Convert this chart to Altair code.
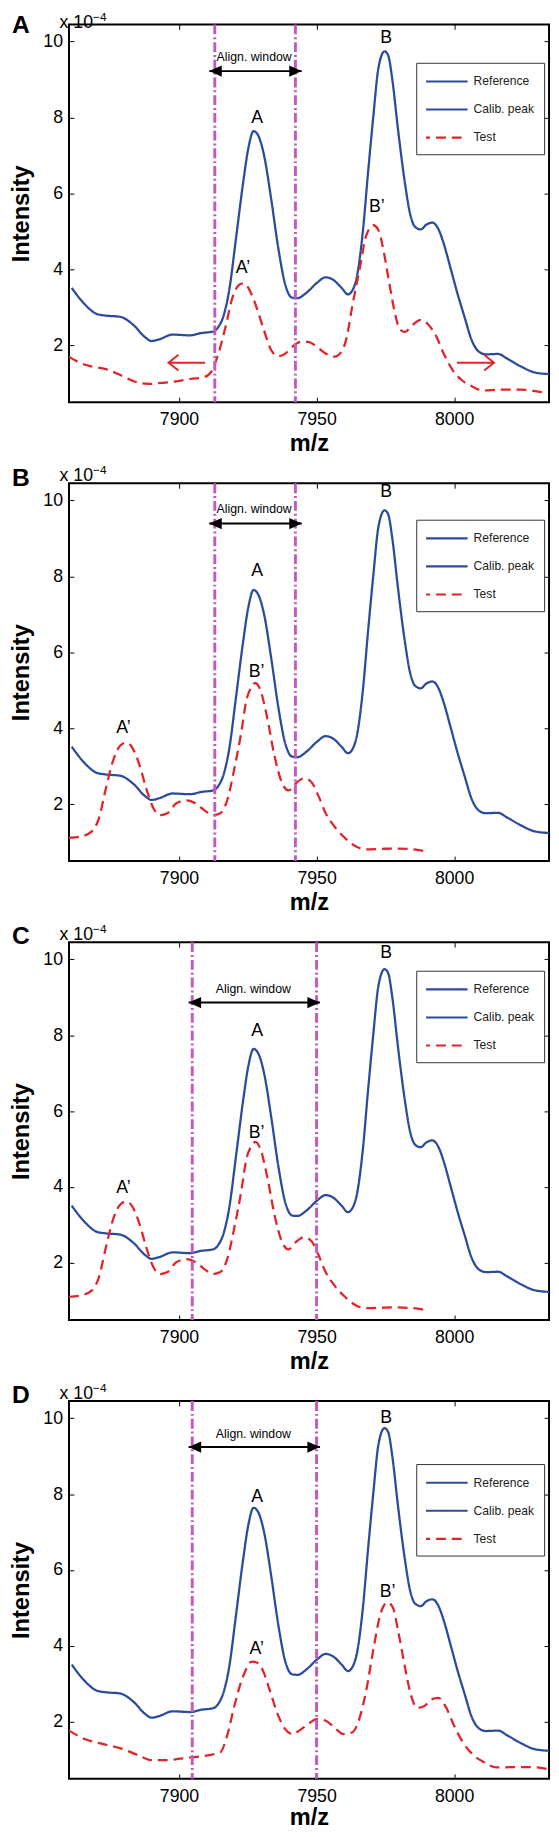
import altair as alt
import pandas as pd

# ---------------- data ----------------
REF_X = [7861, 7865.7, 7870.2, 7873.4, 7878.5, 7883.6, 7887.5, 7890, 7892.6, 7897.7,
         7904, 7908, 7912.4, 7914.3, 7916.2, 7918.2, 7920.7, 7923.3, 7925.2, 7927.1,
         7929.0, 7931, 7933.5, 7936.1, 7938.6, 7941.2, 7943.1, 7946.3, 7950.1, 7953.3,
         7955.9, 7959.1, 7961.4, 7962.9, 7964.8, 7966.8, 7968.7, 7970.6, 7972.5, 7974.7,
         7976.0, 7977.6, 7979.5, 7982.1, 7984.0, 7985.9, 7987.9, 7989.8, 7992.1, 7994.2,
         7996.2, 7998.7, 8001.3, 8003.8, 8006.4, 8009, 8011.5, 8016, 8019.2, 8024.3,
         8029.4, 8034.5]
REF_Y = [3.51, 3.08, 2.82, 2.78, 2.75, 2.52, 2.22, 2.11, 2.15, 2.28,
         2.26, 2.32, 2.36, 2.48, 2.78, 3.43, 4.81, 6.28, 7.19, 7.64,
         7.49, 6.97, 5.85, 4.55, 3.60, 3.25, 3.24, 3.38, 3.64, 3.79,
         3.73, 3.51, 3.34, 3.43, 3.86, 4.98, 6.54, 8.01, 9.31, 9.74,
         9.64, 8.96, 7.75, 6.28, 5.46, 5.11, 5.05, 5.17, 5.23, 5.07,
         4.68, 4.03, 3.34, 2.74, 2.13, 1.83, 1.76, 1.77, 1.65, 1.44,
         1.28, 1.24]

TEST_A_X = [7860, 7864.5, 7868.3, 7873.4, 7878.5, 7883.6, 7888.7, 7893.9, 7899, 7904.1,
            7909.2, 7911.8, 7914.3, 7916.9, 7919.4, 7922, 7923.5, 7925.8, 7928.4, 7930.9,
            7933.5, 7936.1, 7938.6, 7941.2, 7944.4, 7946.9, 7950.1, 7953.3, 7956.5, 7959.1,
            7961, 7962.9, 7965.5, 7968.1, 7970.6, 7972.5, 7974.4, 7976.3, 7978.3, 7980.2,
            7982.1, 7984.7, 7987.9, 7990.4, 7993.6, 7996.2, 7999.4, 8002.6, 8006.4, 8010.2,
            8016.6, 8024.3, 8029.4, 8033]
TEST_A_Y = [1.70, 1.52, 1.44, 1.37, 1.22, 1.05, 0.98, 1.01, 1.05, 1.11,
            1.16, 1.31, 1.78, 2.48, 3.25, 3.60, 3.63, 3.43, 2.95, 2.39,
            1.87, 1.71, 1.78, 1.96, 2.09, 2.09, 1.96, 1.78, 1.70, 1.83,
            2.22, 3.0, 3.95, 4.90, 5.16, 5.03, 4.47, 3.69, 2.91, 2.43,
            2.35, 2.52, 2.67, 2.56, 2.22, 1.78, 1.35, 1.09, 0.92, 0.81,
            0.83, 0.83, 0.79, 0.75]

TEST_BC_X = [7860, 7864.5, 7868.3, 7870.9, 7873.4, 7876, 7878.5, 7880.8, 7883, 7885.5,
             7888.1, 7890.7, 7893.2, 7895.8, 7899, 7902.8, 7906, 7909.2, 7912.4, 7915,
             7917.5, 7920.1, 7922.6, 7924.5, 7926.4, 7927.7, 7929.6, 7932.2, 7934.7, 7937.3,
             7939.8, 7942.3, 7945.5, 7948.1, 7950.6, 7953.3, 7956.5, 7960.3, 7964.2, 7968.1,
             7973.2, 7978.3, 7983.4, 7989.5]
TEST_BC_Y = [1.11, 1.15, 1.28, 1.63, 2.41, 3.14, 3.53, 3.62, 3.49, 3.06,
             2.41, 1.89, 1.71, 1.76, 2.02, 2.10, 2.02, 1.84, 1.71, 1.76,
             2.10, 2.93, 3.88, 4.74, 5.09, 5.19, 5.00, 4.22, 3.27, 2.58,
             2.36, 2.54, 2.68, 2.58, 2.23, 1.76, 1.41, 1.11, 0.89, 0.81,
             0.82, 0.83, 0.82, 0.76]

TEST_D_X = [7860, 7865.7, 7872.1, 7878.5, 7884.9, 7890, 7895.2, 7900.3, 7905.4, 7910.5,
            7915, 7917.5, 7920.1, 7923.3, 7926.5, 7928.4, 7930.4, 7932.9, 7936.1, 7938.6,
            7941.2, 7943.7, 7946.9, 7950.1, 7953.3, 7956.5, 7959.7, 7962.9, 7965.5, 7968.1,
            7970.6, 7973.2, 7975.8, 7977.7, 7979.6, 7982.1, 7984.1, 7986.6, 7989.2, 7991.7,
            7994.3, 7996.8, 8000, 8003.2, 8007.1, 8010.9, 8015.4, 8021.8, 8028.2, 8034.5]
TEST_D_Y = [1.77, 1.55, 1.42, 1.31, 1.13, 0.99, 0.99, 1.03, 1.07, 1.12,
            1.20, 1.64, 2.42, 3.20, 3.59, 3.56, 3.37, 2.85, 2.16, 1.81,
            1.68, 1.77, 1.94, 2.07, 2.03, 1.85, 1.68, 1.72, 2.07, 2.85,
            3.89, 4.84, 5.15, 5.02, 4.41, 3.46, 2.76, 2.37, 2.42, 2.59,
            2.63, 2.42, 1.90, 1.46, 1.12, 0.94, 0.80, 0.81, 0.81, 0.75]

PANEL_LETTERS = ["A", "B", "C", "D"]
TEST_X = [TEST_A_X, TEST_BC_X, TEST_BC_X, TEST_D_X]
TEST_Y = [TEST_A_Y, TEST_BC_Y, TEST_BC_Y, TEST_D_Y]

WINDOW_LEFT = [7913.0, 7913.0, 7904.8, 7904.8]
WINDOW_RIGHT = [7942.3, 7942.3, 7950.0, 7950.0]
ARROW_LEFT = [7911.0, 7911.0, 7903.5, 7903.5]
ARROW_RIGHT = [7944.6, 7944.6, 7951.2, 7951.2]
ARROW_Y = [9.22, 9.39, 8.86, 9.24]
WINDOW_LABEL = "Align. window"
WINDOW_LABEL_X = [7927.3, 7927.3, 7927.0, 7927.0]
WINDOW_LABEL_Y = [9.59, 9.76, 9.22, 9.58]

PEAK_TEXT = ["A", "B", "A\u2019", "B\u2019"]
PEAK_X = [[7928.4, 7975.3, 7923.2, 7971.9],
          [7928.4, 7975.3, 7879.8, 7928.2],
          [7928.4, 7975.3, 7879.8, 7928.2],
          [7928.4, 7975.3, 7928.2, 7975.8]]
PEAK_Y = [[7.99, 10.09, 4.03, 5.63],
          [8.13, 10.22, 3.99, 5.47],
          [8.10, 10.17, 3.97, 5.43],
          [7.92, 10.00, 3.93, 5.41]]

RED_ARROW_TAIL = [7909.5, 8001.0]
RED_ARROW_TIP = [7896.2, 8014.5]
RED_ARROW_Y = [1.54, 1.54]

SERIES = ["Reference", "Calib. peak", "Test"]
X_TICKS = [7900, 7950, 8000]
Y_TICKS = [2, 4, 6, 8, 10]
X_DOMAIN = [7860, 8034.5]
Y_DOMAIN = [0.5, 10.45]
LEGEND_TOP = [39, 37, 29, 64]
ANNOT_SHIFT = [6, 0, 0, 0]
XTITLE_PAD = [3.5, 3.5, 3.5, 0.5]

# ---------------- styling ----------------
BLUE = "#2b4b9b"
RED = "#e3232a"
MAGENTA = "#c25bbf"
FONT = "Liberation Sans"
W, H = 488, 384


def panel(i):
    xs = alt.Scale(domain=X_DOMAIN, nice=False, zero=False)
    ys = alt.Scale(domain=Y_DOMAIN, nice=False, zero=False)
    color_scale = alt.Scale(domain=SERIES, range=[BLUE, BLUE, RED])
    dash_scale = alt.Scale(domain=SERIES, range=[[1, 0], [1, 0], [10, 6]])

    common = dict(offset=-5, tickSize=5, tickWidth=1, tickColor="black", domain=False,
                  grid=False, minExtent=0, maxExtent=200)
    x_bottom = alt.Axis(orient="bottom", values=X_TICKS, format="d",
                        labelFontSize=18, labelPadding=8.8, labelColor="black", labelFont=FONT,
                        labelFlush=False, title="m/z", titleFontSize=24, titleFontWeight="bold",
                        titlePadding=XTITLE_PAD[i], titleColor="black", titleFont=FONT, **common)
    x_top = alt.Axis(orient="top", values=X_TICKS, labels=False, title=None, **common)
    y_left = alt.Axis(orient="left", values=Y_TICKS, format="d",
                      labelFontSize=18, labelPadding=6.6, labelColor="black", labelFont=FONT,
                      labelFlush=False, title="Intensity", titleFontSize=24,
                      titleFontWeight="bold", titlePadding=9.7, titleColor="black",
                      titleFont=FONT, **common)
    y_right = alt.Axis(orient="right", values=Y_TICKS, labels=False, title=None, **common)

    legend = alt.Legend(title=" ", titleFontSize=3, titlePadding=0,
                        orient="none", legendX=353, legendY=LEGEND_TOP[i],
                        symbolType="M-2.22,0L5.78,0", symbolSize=144, symbolStrokeWidth=2.2,
                        labelFontSize=12.3, labelFont=FONT, labelColor="#222",
                        labelOffset=33.3, padding=10, rowPadding=15.5, clipHeight=12,
                        strokeColor="#333", fillColor="white", labelLimit=200)

    ref_df = pd.DataFrame({"mz": REF_X, "intensity": REF_Y, "series": "Reference"})
    test_df = pd.DataFrame({"mz": TEST_X[i], "intensity": TEST_Y[i], "series": "Test"})
    lines_df = pd.concat([ref_df, test_df], ignore_index=True)

    lines = alt.Chart(lines_df).mark_line(clip=True, interpolate="monotone", strokeWidth=2.3).encode(
        x=alt.X("mz:Q", scale=xs, axis=x_bottom),
        y=alt.Y("intensity:Q", scale=ys, axis=y_left),
        color=alt.Color("series:N", scale=color_scale, legend=legend),
        strokeDash=alt.StrokeDash("series:N", scale=dash_scale, legend=legend),
    )

    win_df = pd.DataFrame({"mz": [WINDOW_LEFT[i], WINDOW_RIGHT[i]]})
    rules = alt.Chart(win_df).mark_rule(color=MAGENTA, strokeWidth=3,
                                        strokeDash=[10, 3, 2, 3]).encode(
        x=alt.X("mz:Q", scale=xs, axis=x_top)
    )

    arrow_df = pd.DataFrame({"x1": [ARROW_LEFT[i]], "x2": [ARROW_RIGHT[i]], "y": [ARROW_Y[i]]})
    shaft = alt.Chart(arrow_df).mark_rule(color="black", strokeWidth=2).encode(
        x=alt.X("x1:Q", scale=xs, axis=None), x2="x2:Q",
        y=alt.Y("y:Q", scale=ys, axis=y_right),
    )
    head_l = alt.Chart(arrow_df).mark_point(shape="M0,0L2,-0.9L2,0.9Z", filled=True,
                                            color="black", size=161, opacity=1).encode(
        x=alt.X("x1:Q", scale=xs, axis=None), y=alt.Y("y:Q", scale=ys, axis=None))
    head_r = alt.Chart(arrow_df).mark_point(shape="M0,0L-2,-0.9L-2,0.9Z", filled=True,
                                            color="black", size=161, opacity=1).encode(
        x=alt.X("x2:Q", scale=xs, axis=None), y=alt.Y("y:Q", scale=ys, axis=None))

    wlab_df = pd.DataFrame({"t": [WINDOW_LABEL], "x": [WINDOW_LABEL_X[i]], "y": [WINDOW_LABEL_Y[i]]})
    wlab = alt.Chart(wlab_df).mark_text(fontSize=12.5, font=FONT, color="black",
                                        baseline="middle", align="center").encode(
        x=alt.X("x:Q", scale=xs, axis=None), y=alt.Y("y:Q", scale=ys, axis=None), text="t:N")

    peak_df = pd.DataFrame({"t": PEAK_TEXT, "x": PEAK_X[i], "y": PEAK_Y[i]})
    peaks = alt.Chart(peak_df).mark_text(fontSize=18, font=FONT, color="black",
                                         baseline="middle", align="center").encode(
        x=alt.X("x:Q", scale=xs, axis=None), y=alt.Y("y:Q", scale=ys, axis=None), text="t:N")

    s = ANNOT_SHIFT[i]
    letter = alt.Chart(pd.DataFrame({"t": [PANEL_LETTERS[i]]})).mark_text(
        fontSize=25, fontWeight="bold", font=FONT, color="black", align="left",
        baseline="alphabetic").encode(x=alt.value(-58), y=alt.value(2.3 + s), text="t:N")
    scale_txt = alt.Chart(pd.DataFrame({"t": ["x 10"]})).mark_text(
        fontSize=18, font=FONT, color="black", align="left", baseline="middle").encode(
        x=alt.value(-9.6), y=alt.value(-7.2 + s), text="t:N")
    scale_exp = alt.Chart(pd.DataFrame({"t": ["\u22124"]})).mark_text(
        fontSize=12, font=FONT, color="black", align="left", baseline="middle").encode(
        x=alt.value(24.5), y=alt.value(-13 + s), text="t:N")

    layers = [lines, rules, shaft, head_l, head_r, wlab, peaks, letter, scale_txt, scale_exp]

    if i == 0:
        red_df = pd.DataFrame({"tail": RED_ARROW_TAIL, "tip": RED_ARROW_TIP, "y": RED_ARROW_Y})
        red_shaft = alt.Chart(red_df).mark_rule(color=RED, strokeWidth=2).encode(
            x=alt.X("tail:Q", scale=xs, axis=None), x2="tip:Q",
            y=alt.Y("y:Q", scale=ys, axis=None))
        red_l = alt.Chart(red_df.iloc[[0]]).mark_point(
            shape="M1.25,-1L0,0L1.25,1", filled=False, color=RED, strokeWidth=2,
            size=256, opacity=1).encode(
            x=alt.X("tip:Q", scale=xs, axis=None), y=alt.Y("y:Q", scale=ys, axis=None))
        red_r = alt.Chart(red_df.iloc[[1]]).mark_point(
            shape="M-1.25,-1L0,0L-1.25,1", filled=False, color=RED, strokeWidth=2,
            size=256, opacity=1).encode(
            x=alt.X("tip:Q", scale=xs, axis=None), y=alt.Y("y:Q", scale=ys, axis=None))
        layers += [red_shaft, red_l, red_r]

    return alt.layer(*layers).properties(width=W, height=H)


chart = alt.vconcat(*[panel(i) for i in range(4)], spacing=6.5).resolve_scale(
    color="independent", strokeDash="independent"
).properties(
    padding={"left": 0, "top": -12.5, "right": 0, "bottom": -4}, background="white"
).configure(font=FONT).configure_view(stroke="black", strokeWidth=2)

chart.save("out.html", embed_options={"renderer": "svg", "actions": False})
